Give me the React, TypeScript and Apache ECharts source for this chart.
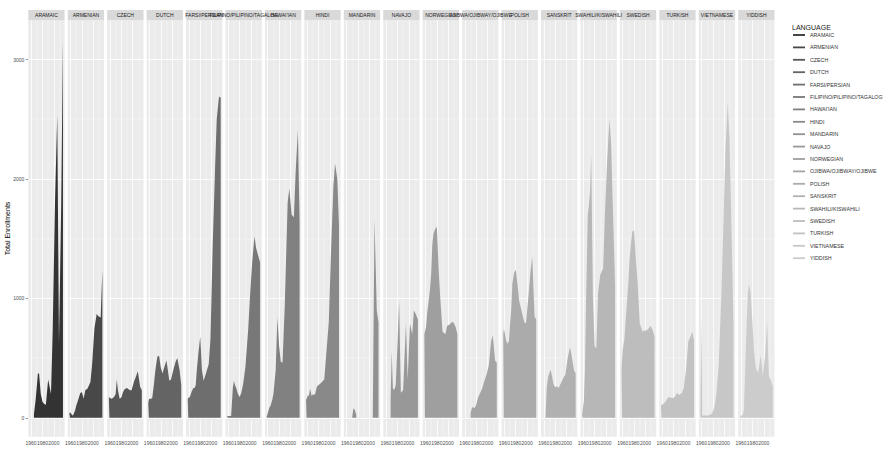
import React, { useEffect, useRef } from "react";
import * as echarts from "echarts";

// Languages, one facet each (alphabetical)
const LANGUAGES = [
  "ARAMAIC", "ARMENIAN", "CZECH", "DUTCH", "FARSI/PERSIAN",
  "FILIPINO/PILIPINO/TAGALOG", "HAWAI'IAN", "HINDI", "MANDARIN", "NAVAJO",
  "NORWEGIAN", "OJIBWA/OJIBWAY/OJIBWE", "POLISH", "SANSKRIT",
  "SWAHILI/KISWAHILI", "SWEDISH", "TURKISH", "VIETNAMESE", "YIDDISH",
];

// Survey years
const YEARS = [1958, 1959, 1960, 1961, 1963, 1965, 1968, 1970, 1972, 1974, 1977,
  1980, 1983, 1986, 1990, 1995, 1998, 2002, 2006, 2009, 2013, 2016];

// Total enrollments per language, aligned with YEARS (null = no record)
const ARAMAIC = [null, null, null, null, null, 30, 150, 260, 370, 370, 200, 135, 115, 110, 320, 200, 730, 1800, 2540, 620, 1800, 3170];
const ARMENIAN = [40, 45, 45, 35, 20, 25, 60, 100, 130, 160, 205, 215, 160, 230, 245, 300, 450, 750, 870, 850, 840, 1240];
const CZECH = [175, 170, 165, 165, 160, 165, 180, 200, 320, 230, 160, 170, 215, 240, 250, 230, 230, 300, 350, 390, 260, 230];
const DUTCH = [120, 150, 160, 160, 160, 165, 280, 380, 450, 510, 520, 420, 370, 420, 480, 310, 320, 400, 470, 500, 400, 270];
const FARSI = [160, 165, 165, 170, 190, 220, 250, 250, 270, 400, 550, 680, 400, 310, 370, 450, 660, 1450, 2080, 2500, 2690, 2680];
const FILIPINO = [15, 15, 15, 15, 15, 15, 250, 310, 270, 250, 200, 175, 210, 280, 420, 740, 1000, 1300, 1520, 1420, 1350, 1300];
const HAWAIIAN = [10, 20, 40, 55, 85, 100, 150, 200, 300, 400, 840, 600, 470, 460, 950, 1800, 1920, 1700, 1680, 2050, 2410, 1650];
const HINDI = [150, 160, 170, 190, 180, 240, 180, 200, 190, 200, 260, 275, 285, 300, 320, 620, 800, 1400, 1930, 2130, 2000, 1600];
const MANDARIN = [960, 0, null, null, null, null, null, 10, 80, 70, 25, null, null, null, null, null, null, null, 0, 1670, 900, 800];
const NAVAJO = [null, null, null, null, null, null, 150, 560, 250, 230, 270, 600, 980, 210, 230, 790, 320, 790, 700, 900, 860, 820];
const NORWEGIAN = [700, 720, 740, 760, 880, 950, 1080, 1210, 1450, 1540, 1580, 1600, 1250, 1000, 720, 700, 770, 780, 800, 800, 760, 700];
const OJIBWA = [null, null, null, null, null, null, null, 40, 80, 90, 80, 110, 170, 200, 240, 320, 360, 440, 640, 690, 480, 460];
const POLISH = [700, 740, 730, 700, 650, 620, 640, 780, 900, 1120, 1210, 1240, 1120, 980, 900, 800, 790, 1000, 1230, 1350, 850, 820];
const SANSKRIT = [null, null, null, null, 0, 250, 350, 380, 400, 360, 280, 255, 265, 250, 290, 340, 360, 500, 590, 520, 400, 370];
const SWAHILI = [30, 60, 100, 130, 400, 1000, 1700, 1780, 1900, 2200, 1000, 600, 580, 1050, 1200, 1250, 1700, 2150, 2500, 2300, 1600, 1100];
const SWEDISH = [400, 500, 570, 600, 660, 800, 1000, 1130, 1320, 1430, 1560, 1570, 1330, 1150, 790, 720, 730, 730, 750, 770, 730, 680];
const TURKISH = [100, 105, 110, 110, 120, 130, 150, 165, 175, 170, 165, 165, 180, 210, 190, 210, 250, 400, 640, 670, 720, 650];
const VIETNAMESE = [20, 20, 850, 20, 20, 20, 20, 20, 20, 25, 30, 50, 100, 200, 430, 1050, 1550, 2250, 2640, 2350, 1500, 800];
const YIDDISH = [10, 15, 15, 20, 25, 60, 500, 800, 1050, 1120, 1050, 800, 550, 420, 375, 530, 350, 500, 800, 350, 310, 260];

const VALUES = [ARAMAIC, ARMENIAN, CZECH, DUTCH, FARSI, FILIPINO, HAWAIIAN, HINDI,
  MANDARIN, NAVAJO, NORWEGIAN, OJIBWA, POLISH, SANSKRIT, SWAHILI, SWEDISH,
  TURKISH, VIETNAMESE, YIDDISH];

// Axis ticks and grid lines
const X_TICKS = [1960, 1980, 2000];
const X_MINOR = [1970, 1990, 2010];
const Y_TICKS = [0, 1000, 2000, 3000];
const Y_MINOR = [500, 1500, 2500];

// Layout
const WIDTH = 885;
const HEIGHT = 451;
const PANEL_LEFT = 28.3;
const PANEL_STEP = 39.44;
const PANEL_W = 36.3;
const PANEL_TOP = 20.3;
const PANEL_H = 416.4;
const STRIP_TOP = 10;
const STRIP_H = 10.3;
const X_MIN = 1955.1;
const X_MAX = 2018.9;
const Y_MIN = -158.5;
const Y_MAX = 3328.5;
const FONT = "Liberation Sans, Arial, Helvetica, sans-serif";

// Grey fill scale, gamma-corrected from grey20 to grey80
function greyFill(i: number, n: number): string {
  const g = 2.2;
  const a = Math.pow(0.2, g);
  const b = Math.pow(0.8, g);
  const t = n > 1 ? i / (n - 1) : 0;
  const level = Math.pow(a + (b - a) * t, 1 / g);
  const v = Math.round(level * 255);
  const h = v.toString(16).padStart(2, "0");
  return `#${h}${h}${h}`;
}

export default function App() {
  const ref = useRef<HTMLDivElement>(null);

  useEffect(() => {
    if (!ref.current) return;
    const chart = echarts.init(ref.current, undefined, { renderer: "svg" });
    const n = LANGUAGES.length;
    const fills = LANGUAGES.map((_, i) => greyFill(i, n));
    const panelX = (i: number) => PANEL_LEFT + i * PANEL_STEP;
    const midPanel = Math.floor(n / 2);

    const grid = LANGUAGES.map((_, i) => ({
      left: panelX(i),
      top: PANEL_TOP,
      width: PANEL_W,
      height: PANEL_H,
      show: true,
      backgroundColor: "#EBEBEB",
      borderWidth: 0,
      containLabel: false,
      outerBoundsMode: "none",
    }));

    const xAxis = LANGUAGES.map((_, i) => ({
      gridIndex: i,
      type: "value",
      min: X_MIN,
      max: X_MAX,
      axisLine: { show: false },
      axisTick: {
        show: true,
        customValues: X_TICKS,
        length: 2.5,
        lineStyle: { color: "#333333", width: 0.5 },
      },
      axisLabel: {
        show: true,
        customValues: X_TICKS,
        formatter: (v: number) => String(v),
        fontSize: 5,
        color: "#4D4D4D",
        margin: 4,
        fontFamily: FONT,
      },
      splitLine: { show: false },
      name: i === midPanel ? "Year" : "",
      nameLocation: "middle",
      nameGap: 13,
      nameTextStyle: { fontSize: 7, color: "#000000", fontFamily: FONT },
    }));

    const yAxis = LANGUAGES.map((_, i) => ({
      gridIndex: i,
      type: "value",
      min: Y_MIN,
      max: Y_MAX,
      axisLine: { show: false },
      axisTick: {
        show: i === 0,
        customValues: Y_TICKS,
        length: 2.5,
        lineStyle: { color: "#333333", width: 0.5 },
      },
      axisLabel: {
        show: i === 0,
        customValues: Y_TICKS,
        formatter: (v: number) => String(v),
        fontSize: 5,
        color: "#4D4D4D",
        margin: 4,
        fontFamily: FONT,
      },
      splitLine: { show: false },
      name: i === 0 ? "Total Enrollments" : "",
      nameLocation: "middle",
      nameGap: 17,
      nameMoveOverlap: false,
      nameTextStyle: { fontSize: 7, color: "#000000", fontFamily: FONT },
    }));

    // White panel grid lines, kept beneath the areas
    const gridLineSeries = LANGUAGES.map((_, i) => ({
      type: "line",
      xAxisIndex: i,
      yAxisIndex: i,
      data: [],
      silent: true,
      z: 1,
      markLine: {
        z: 1,
        silent: true,
        symbol: ["none", "none"],
        label: { show: false },
        emphasis: { disabled: true },
        lineStyle: { color: "#FFFFFF", type: "solid", width: 0.8 },
        data: [
          ...X_MINOR.map((v) => ({ xAxis: v, lineStyle: { color: "#F7F7F7", type: "solid", width: 0.4 } })),
          ...Y_MINOR.map((v) => ({ yAxis: v, lineStyle: { color: "#F7F7F7", type: "solid", width: 0.4 } })),
          ...X_TICKS.map((v) => ({ xAxis: v })),
          ...Y_TICKS.map((v) => ({ yAxis: v })),
        ],
      },
    }));

    const areaSeries = LANGUAGES.map((name, i) => ({
      name,
      type: "line",
      xAxisIndex: i,
      yAxisIndex: i,
      data: YEARS.map((y, k) => [y, VALUES[i][k]]),
      showSymbol: false,
      symbol: "none",
      connectNulls: false,
      silent: true,
      z: 8,
      color: fills[i],
      lineStyle: { width: 0, color: fills[i] },
      areaStyle: { color: fills[i], opacity: 1 },
      itemStyle: { color: fills[i] },
    }));

    const strips = LANGUAGES.flatMap((name, i) => [
      {
        type: "rect",
        silent: true,
        z: 5,
        shape: { x: panelX(i), y: STRIP_TOP, width: PANEL_W, height: STRIP_H },
        style: { fill: "#D9D9D9" },
      },
      {
        type: "text",
        silent: true,
        z: 10,
        x: panelX(i) + PANEL_W / 2,
        y: STRIP_TOP + STRIP_H / 2,
        style: {
          text: name,
          fontSize: 5,
          fontFamily: FONT,
          fill: "#1A1A1A",
          align: "center",
          verticalAlign: "middle",
          textAlign: "center",
          textVerticalAlign: "middle",
        },
      },
    ]);

    chart.setOption({
      animation: false,
      backgroundColor: "#FFFFFF",
      title: {
        text: "LANGUAGE",
        left: 792,
        top: 24,
        padding: 0,
        textStyle: { fontSize: 7, fontWeight: "normal", color: "#1A1A1A", fontFamily: FONT },
      },
      legend: {
        data: LANGUAGES,
        orient: "vertical",
        left: 793,
        top: 32,
        padding: 0,
        icon: "rect",
        itemWidth: 12,
        itemHeight: 1.8,
        itemGap: 6.4,
        selectedMode: false,
        textStyle: { fontSize: 5.3, lineHeight: 6, color: "#333333", fontFamily: FONT },
      },
      grid,
      xAxis,
      yAxis,
      series: [...gridLineSeries, ...areaSeries],
      graphic: strips,
    });

    return () => chart.dispose();
  }, []);

  return (
    <div
      ref={ref}
      style={{ position: "fixed", left: 0, top: 0, width: WIDTH, height: HEIGHT, background: "#FFFFFF" }}
    />
  );
}
